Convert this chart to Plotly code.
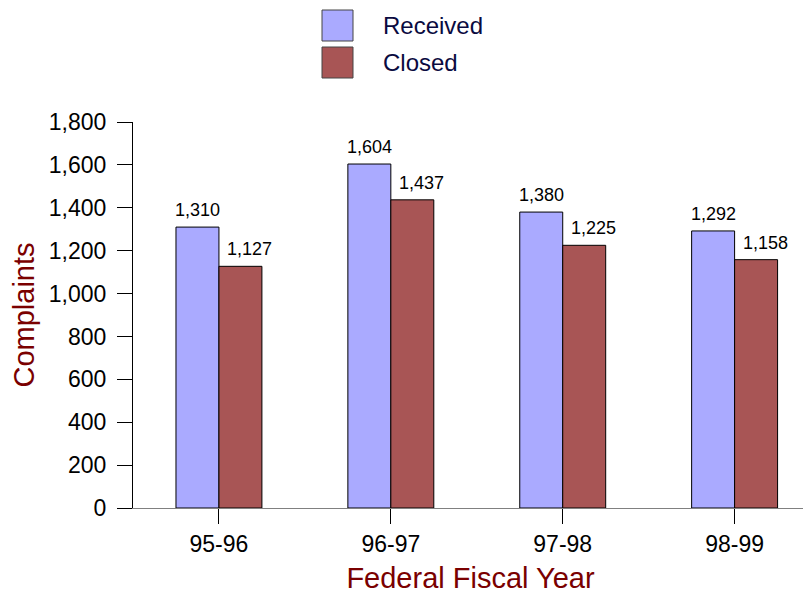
import plotly.graph_objects as go

categories = ["95-96", "96-97", "97-98", "98-99"]
received = [1310, 1604, 1380, 1292]
closed = [1127, 1437, 1225, 1158]
y_ticks = [0, 200, 400, 600, 800, 1000, 1200, 1400, 1600, 1800]

# page has an 8px body margin; compensate so plot lands where the reference has it
OFF = 8
W, H = 811 - OFF, 594 - OFF
L, R, T, B = 133 - OFF, 3, 122 - OFF, 86
pw, ph = W - L - R, H - T - B

idx = list(range(len(categories)))
c_rec = "#AAAAFF"
c_clo = "#A85555"

fig = go.Figure()
fig.add_trace(go.Bar(x=idx, y=received, name="Received", width=0.25, offset=-0.25,
                     marker=dict(color=c_rec, line=dict(color="black", width=1))))
fig.add_trace(go.Bar(x=idx, y=closed, name="Closed", width=0.25, offset=0,
                     marker=dict(color=c_clo, line=dict(color="black", width=1))))

for i, v in zip(idx, received):
    fig.add_annotation(x=i - 0.125, y=v, text=f"{v:,}", showarrow=False, yanchor="bottom",
                       yshift=5, font=dict(size=18, color="black", family="Arial"))
for i, v in zip(idx, closed):
    fig.add_annotation(x=i + 0.125, y=v, text=f"{v:,}", showarrow=False, yanchor="bottom",
                       xshift=9, yshift=5, font=dict(size=18, color="black", family="Arial"))

def px_x(p):
    return (p - OFF - L) / pw

def px_y(p):
    return (H - B - (p - OFF)) / ph

for name, col, top in [("Received", c_rec, 10), ("Closed", c_clo, 47)]:
    fig.add_shape(type="rect", xref="paper", yref="paper",
                  x0=px_x(322), x1=px_x(353), y0=px_y(top + 31), y1=px_y(top),
                  fillcolor=col, line=dict(color="#444444", width=1))
    fig.add_annotation(xref="paper", yref="paper", x=px_x(381), y=px_y(top + 15.5),
                       text=name, showarrow=False, xanchor="left", yanchor="middle",
                       font=dict(size=24, color="#0A0A40", family="Arial"))

fig.update_layout(
    width=W, height=H, margin=dict(l=L, r=R, t=T, b=B),
    plot_bgcolor="white", paper_bgcolor="white", showlegend=False,
    font=dict(family="Arial", color="black"),
)
fig.update_xaxes(range=[-0.5, 3.427], tickvals=idx, ticktext=categories,
                 showline=True, linecolor="#808080", linewidth=1,
                 ticks="outside", ticklen=15, tickcolor="black", tickwidth=1,
                 showgrid=False, zeroline=False, tickfont=dict(size=23, color="black"),
                 title=dict(text="Federal Fiscal Year", font=dict(size=29, color="#7A0000"), standoff=12))
fig.update_yaxes(range=[0, 1800], tickvals=y_ticks, tickformat=",",
                 showline=True, linecolor="black", linewidth=1,
                 ticks="outside", ticklen=15, tickcolor="black", tickwidth=1,
                 showgrid=False, zeroline=False, tickfont=dict(size=23, color="black"),
                 ticklabelstandoff=6,
                 title=dict(text="Complaints", font=dict(size=29, color="#7A0000"), standoff=10))

fig.write_html("out.html")
